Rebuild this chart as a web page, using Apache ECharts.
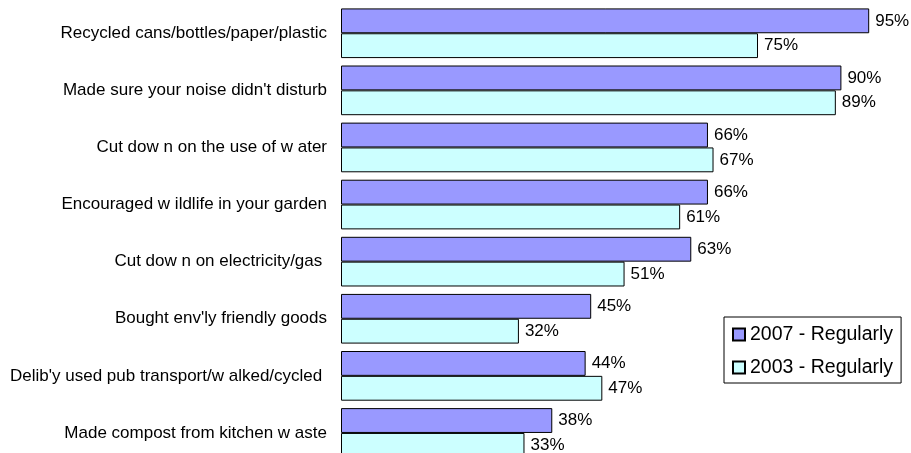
<!DOCTYPE html>
<html><head><meta charset="utf-8">
<script src="https://cdn.jsdelivr.net/npm/echarts@6/dist/echarts.min.js"></script>
<style>html,body{margin:0;padding:0;background:#fff;overflow:hidden}#c{width:911px;height:462px}</style>
</head><body><div id="c"></div>
<script>
const categories = [
  "Recycled cans/bottles/paper/plastic",
  "Made sure your noise didn't disturb",
  "Cut dow n on the use of w ater",
  "Encouraged w ildlife in your garden",
  "Cut dow n on electricity/gas ",
  "Bought env'ly friendly goods",
  "Delib'y used pub transport/w alked/cycled ",
  "Made compost from kitchen w aste"
];
const series2007 = [95, 90, 66, 66, 63, 45, 44, 38];
const series2003 = [75, 89, 67, 61, 51, 32, 47, 33];
const seriesNames = ["2007 - Regularly", "2003 - Regularly"];

const font = '"Liberation Sans", Arial, sans-serif';
const chart = echarts.init(document.getElementById('c'));
const lbl = {show: true, position: 'right', distance: 6, formatter: '{c}%', color: '#000', fontSize: 17, fontFamily: font};
chart.setOption({
  animation: false,
  textStyle: {fontFamily: font},
  grid: {left: 341, width: 556, top: 4.7, height: 456.8, containLabel: false},
  xAxis: {type: 'value', min: 0, max: 100, show: false},
  yAxis: {
    type: 'category', data: categories, inverse: true,
    axisLine: {show: false}, axisTick: {show: false},
    axisLabel: {color: '#000', fontSize: 17, fontFamily: font, margin: 14}
  },
  legend: {
    left: 724, top: 317, orient: 'vertical',
    data: seriesNames, icon: 'rect',
    borderColor: '#000', borderWidth: 1, borderRadius: 0,
    padding: [7, 8, 5, 8], itemGap: 12,
    itemWidth: 12, itemHeight: 12,
    textStyle: {color: '#000', fontSize: 19.5, lineHeight: 21, fontFamily: font, padding: [0, 0, 0, 0]}
  },
  series: [
    {name: seriesNames[0], type: 'bar', data: series2007, barGap: '0%', barCategoryGap: '13%',
     itemStyle: {color: '#9999FF', borderColor: '#000', borderWidth: 1}, label: lbl},
    {name: seriesNames[1], type: 'bar', data: series2003,
     itemStyle: {color: '#CCFFFF', borderColor: '#000', borderWidth: 1}, label: lbl}
  ]
});
</script></body></html>
